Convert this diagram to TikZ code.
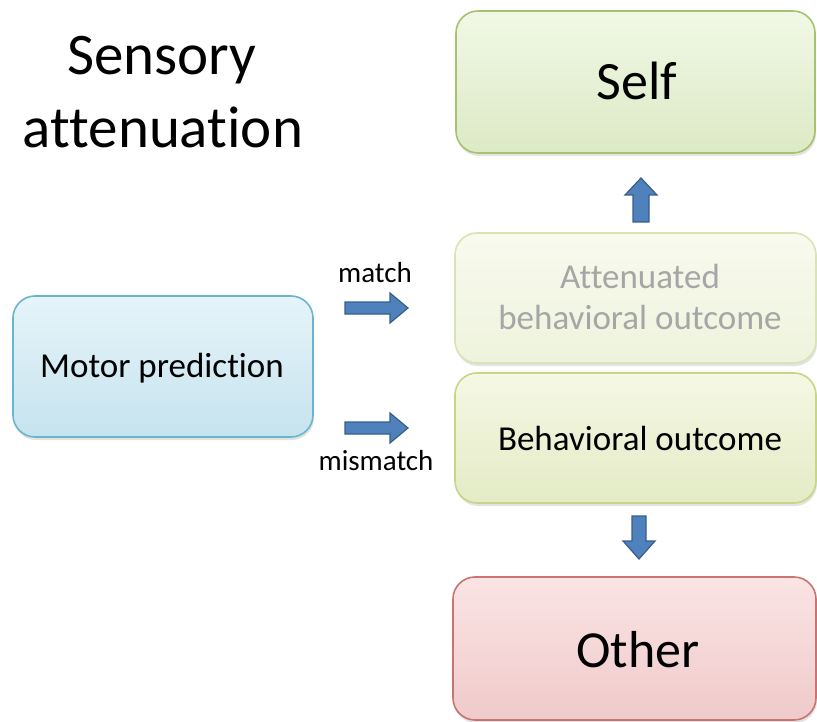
\documentclass[tikz,border=0pt]{standalone}
\usepackage{fontspec}
\setmainfont[RawFeature={-liga}]{Carlito}
\usetikzlibrary{shadows}
\definecolor{arrowfill}{HTML}{4F81BD}
\definecolor{arrowline}{HTML}{385D8A}
\definecolor{selfline}{HTML}{A6C26E}
\definecolor{selftop}{HTML}{F1F8E6}
\definecolor{selfbot}{HTML}{DCEAC5}
\definecolor{attline}{HTML}{D8E4B6}
\definecolor{atttop}{HTML}{F8FAEE}
\definecolor{attbot}{HTML}{EEF3DD}
\definecolor{behline}{HTML}{C5D784}
\definecolor{behtop}{HTML}{F5F8E4}
\definecolor{behbot}{HTML}{E4EBC6}
\definecolor{othline}{HTML}{C97372}
\definecolor{othtop}{HTML}{FBE4E4}
\definecolor{othbot}{HTML}{EFCACA}
\definecolor{motline}{HTML}{68B6CC}
\definecolor{mottop}{HTML}{E6F4FA}
\definecolor{motbot}{HTML}{C6E3EE}
\definecolor{attext}{HTML}{A6A6A6}
\tikzset{
  box/.style={rounded corners=22pt, line width=1.6pt, align=center, inner sep=0pt,
    drop shadow={opacity=0.22, shadow xshift=1pt, shadow yshift=-3pt}},
  blockarrow/.style={fill=arrowfill, draw=arrowline, line width=1.2pt, line join=miter},
  lbl/.style={inner sep=0pt, font=\fontsize{29}{33}\selectfont}
}
\begin{document}
\begin{tikzpicture}[x=1pt,y=-1pt]
\useasboundingbox (0,0) rectangle (817,722);
% title
\node[inner sep=0pt, anchor=base, font=\fontsize{59}{70}\selectfont] (t1) at (162,75) {Sensory};
\node[inner sep=0pt, anchor=base, font=\fontsize{59}{70}\selectfont] (t2) at (163,148) {attenuation};
% boxes
\node[box, draw=selfline, top color=selftop, bottom color=selfbot, minimum width=359pt, minimum height=142pt] (self) at (635.5,82) {};
\node[inner sep=0pt, anchor=base, font=\fontsize{54}{60}\selectfont] (selft) at (637,100) {Self};
\node[box, draw=attline, top color=atttop, bottom color=attbot, minimum width=361pt, minimum height=130pt] (att) at (635.5,298) {};
\node[inner sep=0pt, anchor=base, text=attext, font=\fontsize{35}{40}\selectfont] (attt1) at (640,288) {Attenuated};
\node[inner sep=0pt, anchor=base, text=attext, font=\fontsize{35}{40}\selectfont] (attt2) at (640,330) {behavioral outcome};
\node[box, draw=behline, top color=behtop, bottom color=behbot, minimum width=361pt, minimum height=130pt] (beh) at (635.5,438) {};
\node[inner sep=0pt, anchor=base, font=\fontsize{35}{40}\selectfont] (beht) at (640,450) {Behavioral outcome};
\node[box, draw=othline, top color=othtop, bottom color=othbot, minimum width=363pt, minimum height=143pt] (oth) at (634.5,648.5) {};
\node[inner sep=0pt, anchor=base, font=\fontsize{52}{60}\selectfont] (otht) at (638,667) {Other};
\node[box, draw=motline, top color=mottop, bottom color=motbot, minimum width=300pt, minimum height=141pt] (mot) at (163,366.5) {};
\node[inner sep=0pt, anchor=base, font=\fontsize{35}{40}\selectfont] (mott) at (162,377) {Motor prediction};
% labels
\node[lbl, anchor=base] (lmatch) at (375,283) {match};
\node[lbl, anchor=base] (lmis) at (376,470) {mismatch};
% block arrows
\draw[blockarrow] (345,302) -- (390,302) -- (390,293) -- (408,308) -- (390,323) -- (390,314) -- (345,314) -- cycle;
\draw[blockarrow] (345,422) -- (390,422) -- (390,413) -- (408,428) -- (390,443) -- (390,434) -- (345,434) -- cycle;
\draw[blockarrow] (633,222) -- (633,195) -- (625,195) -- (641,178) -- (657,195) -- (649,195) -- (649,222) -- cycle;
\draw[blockarrow] (632,516) -- (632,541) -- (623,541) -- (639,559) -- (655,541) -- (646,541) -- (646,516) -- cycle;
\end{tikzpicture}
\end{document}
